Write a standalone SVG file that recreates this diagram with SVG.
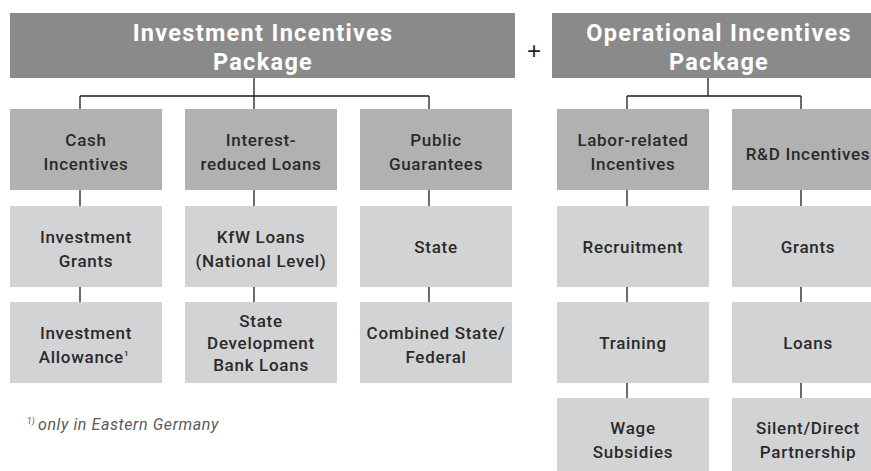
<svg xmlns="http://www.w3.org/2000/svg" width="871" height="471" viewBox="0 0 871 471">
<style>
.hdr{fill:#8a8a8b}
.l1{fill:#b1b1b2}
.l2{fill:#d2d3d4}
.ht{font-family:Roboto,"Liberation Sans",sans-serif;font-weight:700;font-size:23.5px;fill:#ffffff;text-anchor:middle;letter-spacing:1.3px}
.bt{font-family:Roboto,"Liberation Sans",sans-serif;font-weight:500;font-size:17px;fill:#2a2a2a;text-anchor:middle;letter-spacing:0.7px}
.sup{font-family:Roboto,"Liberation Sans",sans-serif;font-weight:500;font-size:8px;fill:#2a2a2a}
.fn{font-family:Roboto,"Liberation Sans",sans-serif;font-style:italic;font-size:16px;fill:#5a5a5a;letter-spacing:0.6px}
.fns{font-family:Roboto,"Liberation Sans",sans-serif;font-style:italic;font-size:8.5px;fill:#5a5a5a}
.plus{font-family:"Liberation Sans",sans-serif;font-size:24px;fill:#222222;text-anchor:middle}
.cn{stroke:#1e1e1e;stroke-width:1.3;fill:none}
</style>
<rect width="871" height="471" fill="#ffffff"/>
<g id="connectors">
<path class="cn" d="M254 78V96M80 96H429M80 96V109M254 96V109M429 96V109"/>
<path class="cn" d="M80 190V206M80 287V302M254 190V206M254 287V302M429 190V206M429 287V302"/>
<path class="cn" d="M708 78V96M627 96H801M627 96V109M801 96V109"/>
<path class="cn" d="M627 190V206M627 287V302M627 383V398M801 190V206M801 287V302M801 383V398"/>
</g>
<g id="investment-package">
<rect class="hdr" x="10" y="13" width="505" height="65"/>
<text class="ht" x="263" y="41">Investment Incentives</text>
<text class="ht" x="263" y="70">Package</text>
</g>
<g id="plus"><text class="plus" x="534" y="59">+</text></g>
<g id="operational-package">
<rect class="hdr" x="552" y="13" width="332" height="65"/>
<text class="ht" x="719" y="41">Operational Incentives</text>
<text class="ht" x="719" y="70">Package</text>
</g>
<g id="cash-incentives">
<rect class="l1" x="10" y="109" width="152" height="81"/>
<text class="bt" x="86" y="146">Cash</text>
<text class="bt" x="86" y="170">Incentives</text>
</g>
<g id="interest-reduced-loans">
<rect class="l1" x="185" y="109" width="152" height="81"/>
<text class="bt" x="261" y="146">Interest-</text>
<text class="bt" x="261" y="170">reduced Loans</text>
</g>
<g id="public-guarantees">
<rect class="l1" x="360" y="109" width="152" height="81"/>
<text class="bt" x="436" y="146">Public</text>
<text class="bt" x="436" y="170">Guarantees</text>
</g>
<g id="investment-grants">
<rect class="l2" x="10" y="206" width="152" height="81"/>
<text class="bt" x="86" y="243">Investment</text>
<text class="bt" x="86" y="267">Grants</text>
</g>
<g id="kfw-loans">
<rect class="l2" x="185" y="206" width="152" height="81"/>
<text class="bt" x="261" y="243">KfW Loans</text>
<text class="bt" x="261" y="267">(National Level)</text>
</g>
<g id="state">
<rect class="l2" x="360" y="206" width="152" height="81"/>
<text class="bt" x="436" y="253">State</text>
</g>
<g id="investment-allowance">
<rect class="l2" x="10" y="302" width="152" height="81"/>
<text class="bt" x="86" y="339">Investment</text>
<text class="bt" x="84" y="363">Allowance<tspan class="sup" dy="-7">1</tspan></text>
</g>
<g id="state-development-bank-loans">
<rect class="l2" x="185" y="302" width="152" height="81"/>
<text class="bt" x="261" y="327">State</text>
<text class="bt" x="261" y="349">Development</text>
<text class="bt" x="261" y="371">Bank Loans</text>
</g>
<g id="combined-state-federal">
<rect class="l2" x="360" y="302" width="152" height="81"/>
<text class="bt" x="436" y="339">Combined State/</text>
<text class="bt" x="436" y="363">Federal</text>
</g>
<g id="labor-related-incentives">
<rect class="l1" x="557" y="109" width="152" height="81"/>
<text class="bt" x="633" y="146">Labor-related</text>
<text class="bt" x="633" y="170">Incentives</text>
</g>
<g id="rd-incentives">
<rect class="l1" x="732" y="109" width="152" height="81"/>
<text class="bt" x="808" y="160">R&amp;D Incentives</text>
</g>
<g id="recruitment">
<rect class="l2" x="557" y="206" width="152" height="81"/>
<text class="bt" x="633" y="253">Recruitment</text>
</g>
<g id="grants">
<rect class="l2" x="732" y="206" width="152" height="81"/>
<text class="bt" x="808" y="253">Grants</text>
</g>
<g id="training">
<rect class="l2" x="557" y="302" width="152" height="81"/>
<text class="bt" x="633" y="349">Training</text>
</g>
<g id="loans">
<rect class="l2" x="732" y="302" width="152" height="81"/>
<text class="bt" x="808" y="349">Loans</text>
</g>
<g id="wage-subsidies">
<rect class="l2" x="557" y="398" width="152" height="81"/>
<text class="bt" x="633" y="434">Wage</text>
<text class="bt" x="633" y="458">Subsidies</text>
</g>
<g id="silent-direct-partnership">
<rect class="l2" x="732" y="398" width="152" height="81"/>
<text class="bt" x="808" y="434">Silent/Direct</text>
<text class="bt" x="808" y="458">Partnership</text>
</g>
<g id="footnote">
<text class="fns" x="27" y="424">1)</text>
<text class="fn" x="38" y="430">only in Eastern Germany</text>
</g>
</svg>
